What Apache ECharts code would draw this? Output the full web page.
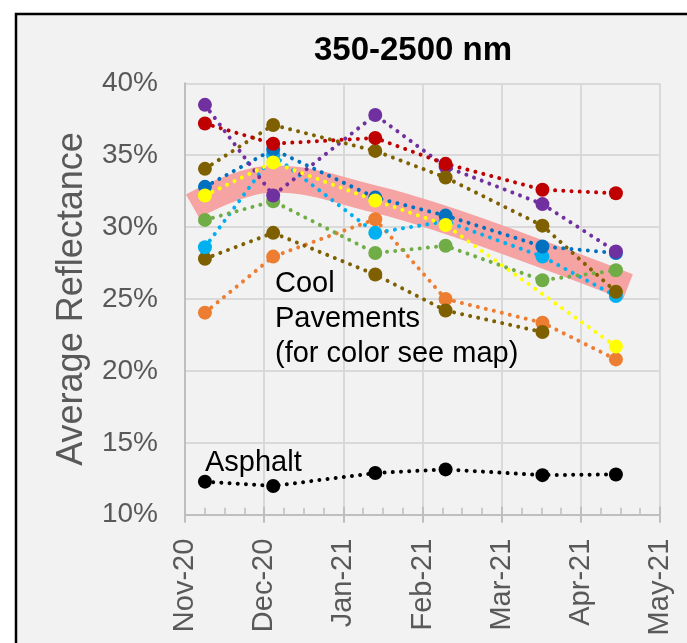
<!DOCTYPE html>
<html>
<head>
<meta charset="utf-8">
<script src="https://cdn.jsdelivr.net/npm/echarts@6/dist/echarts.min.js"></script>
<style>
  html, body { margin: 0; padding: 0; background: #ffffff; }
  #chart { width: 687px; height: 643px; }
</style>
</head>
<body>
<div id="chart"></div>
<script>
// Time runs in days counted from 1 Nov 2020; the axis spans six months.
const axisDays = 181;
const monthLabels = ['Nov-20', 'Dec-20', 'Jan-21', 'Feb-21', 'Mar-21', 'Apr-21', 'May-21'];

// Measurement days (days after 1 Nov 2020)
const sampleDays = [7.6, 33.6, 72.5, 99.3, 136.2, 164.2];

// Average reflectance (%) for each cool pavement site
const purpleSite   = [38.5, 32.2, 37.8, 34.2, 31.6, 28.3];
const redSite      = [37.2, 35.8, 36.2, 34.4, 32.6, 32.35];
const brownSite    = [34.05, 37.1, 35.3, 33.45, 30.1, 25.5];
const blueSite     = [32.8, 35.4, 32.05, 30.8, 28.65, 28.2];
const yellowSite   = [32.2, 34.5, 31.85, 30.15, null, 21.7];
const greenSite    = [30.5, 31.8, 28.2, 28.7, 26.3, 27.0];
const cyanSite     = [28.6, 35.0, 29.6, 30.4, 27.95, 25.2];
const oliveSite    = [27.8, 29.6, 26.7, 24.2, 22.7, null];
const orangeSite   = [24.05, 27.95, 30.55, 25.0, 23.35, 20.8];
const asphaltSite  = [12.3, 12.0, 12.9, 13.15, 12.75, 12.8];

// Overall cool-pavement trend band
const trendDays   = [2.9, 33.6, 72.5, 99.3, 136.2, 168.8];
const trendValues = [31.45, 33.35, 31.95, 30.5, 28.1, 25.85];

const pairs = (xs, ys) => xs.map((x, i) => [x, ys[i]]).filter(p => p[1] !== null);

const dotted = { type: [0.01, 8.2], cap: 'round', width: 4 };
const font = 'Liberation Sans, Arial, sans-serif';

function site(name, color, values) {
  return {
    name: name,
    type: 'line',
    xAxisIndex: 0,
    data: pairs(sampleDays, values),
    symbol: 'circle',
    symbolSize: 14,
    itemStyle: { color: color },
    lineStyle: Object.assign({ color: color }, dotted),
    z: 3
  };
}

const chart = echarts.init(document.getElementById('chart'));
const interval = axisDays / 6;

chart.setOption({
  animation: false,
  title: {
    text: '350-2500 nm',
    left: 408,
    top: 29,
    textAlign: 'center',
    textStyle: { fontFamily: font, fontSize: 33, fontWeight: 'bold', color: '#000' }
  },
  graphic: [
    {
      type: 'rect',
      z: -100,
      silent: true,
      shape: { x: 16, y: 14, width: 700, height: 660 },
      style: { fill: '#f2f2f2', stroke: '#000', lineWidth: 2.5 }
    },
    {
      type: 'text',
      left: 275, top: 266,
      style: {
        text: 'Cool\nPavements\n(for color see map)',
        fontFamily: font, fontSize: 29, lineHeight: 35, fill: '#000'
      },
      z: 10
    },
    {
      type: 'text',
      left: 205, top: 448,
      style: { text: 'Asphalt', fontFamily: font, fontSize: 29, fill: '#000' },
      z: 10
    }
  ],
  grid: { left: 185, right: 27, top: 83.3, bottom: 128.3, outerBoundsMode: 'none' },
  xAxis: [
    {
      type: 'value',
      min: 0,
      max: axisDays,
      interval: interval,
      axisLine: { show: true, lineStyle: { color: '#bfbfbf', width: 2 } },
      axisTick: { show: true, inside: true, length: 8, lineStyle: { color: '#bfbfbf', width: 2 } },
      minorTick: { show: true, splitNumber: 4, length: 7, lineStyle: { color: '#bfbfbf', width: 1.5 } },
      splitLine: { show: true, lineStyle: { color: '#d9d9d9', width: 2 } },
      axisLabel: {
        rotate: 90,
        margin: 24,
        overflow: 'none',
        hideOverlap: false,
        fontFamily: font,
        fontSize: 29,
        color: '#595959',
        formatter: v => monthLabels[Math.round(v / interval)] || ''
      }
    },
    {
      // outer half of the major tick marks
      type: 'value',
      position: 'bottom',
      min: 0,
      max: axisDays,
      interval: interval,
      axisLine: { show: false },
      axisTick: { show: true, inside: false, length: 8, lineStyle: { color: '#bfbfbf', width: 2 } },
      splitLine: { show: false },
      axisLabel: { show: false }
    }
  ],
  yAxis: {
    type: 'value',
    min: 10,
    max: 40,
    interval: 5,
    name: 'Average Reflectance',
    nameLocation: 'middle',
    nameGap: 95,
    nameTextStyle: { fontFamily: font, fontSize: 36, color: '#595959' },
    axisLine: { show: true, lineStyle: { color: '#bfbfbf', width: 2 } },
    axisTick: { show: false },
    splitLine: { show: true, lineStyle: { color: '#d9d9d9', width: 2 } },
    axisLabel: {
      margin: 27,
      fontFamily: font,
      fontSize: 28,
      color: '#595959',
      formatter: '{value}%'
    }
  },
  series: [
    {
      name: 'Trend',
      type: 'line',
      data: pairs(trendDays, trendValues),
      smooth: 0.4,
      symbol: 'none',
      lineStyle: { color: '#f6a3a3', width: 27, cap: 'butt' },
      z: 1
    },
    site('Orange', '#ed7d31', orangeSite),
    site('Olive', '#7f6000', oliveSite),
    site('Cyan', '#00b0f0', cyanSite),
    site('Green', '#70ad47', greenSite),
    site('Blue', '#0070c0', blueSite),
    site('Purple', '#7030a0', purpleSite),
    site('Yellow', '#ffff00', yellowSite),
    site('Brown', '#7f6000', brownSite),
    site('Red', '#c00000', redSite),
    site('Asphalt', '#000000', asphaltSite)
  ]
});
</script>
</body>
</html>
